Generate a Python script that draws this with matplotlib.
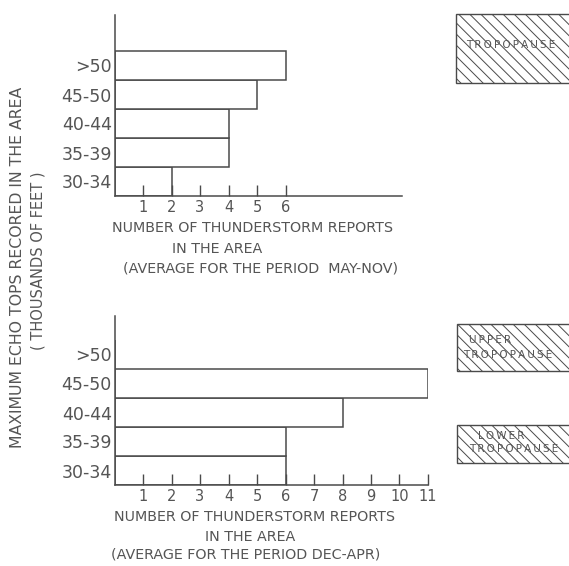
import numpy as np
import matplotlib
matplotlib.use("Agg")
import matplotlib.pyplot as plt
from matplotlib.patches import Rectangle

W, H = 569, 566

categories = ['30-34', '35-39', '40-44', '45-50', '>50']
may_nov = [2, 4, 4, 5, 6]
dec_apr = [6, 6, 8, 11, 0]
ticks_top = [1, 2, 3, 4, 5, 6]
ticks_bottom = [1, 2, 3, 4, 5, 6, 7, 8, 9, 10, 11]

ink = '#4a4a4a'
txt = '#555555'
plt.rcParams['hatch.linewidth'] = 0.7
plt.rcParams['hatch.color'] = '#9a9a9a'

fig = plt.figure(figsize=(W / 100, H / 100), dpi=100)


def px_axes(x0, y_top, x1, y_bot):
    return fig.add_axes([x0 / W, 1 - y_bot / H, (x1 - x0) / W, (y_bot - y_top) / H])


def ftext(x, y, s, **kw):
    fig.text(x / W, 1 - y / H, s, color=txt, **kw)


def spaced(word):
    # wide lettering of the hand-drawn labels
    return '\u2009'.join(word)


def panel(ax, values, ticks, xmax, ymax):
    ax.barh(np.arange(len(categories)), values, height=1, align='edge',
            color='white', edgecolor=ink, linewidth=1.1)
    ax.set_xlim(0, xmax)
    ax.set_ylim(0, ymax)
    for s in ['top', 'right']:
        ax.spines[s].set_visible(False)
    for s in ['left', 'bottom']:
        ax.spines[s].set_color(ink)
        ax.spines[s].set_linewidth(1.1)
    ax.set_xticks(ticks)
    ax.set_xticklabels([str(t) for t in ticks], color=txt, fontsize=10.5)
    ax.tick_params(axis='x', direction='in', length=8, width=1, color=ink, pad=3)
    ax.set_yticks(np.arange(len(categories)) + 0.5)
    ax.set_yticklabels(categories, color=txt, fontsize=12.5)
    ax.tick_params(axis='y', length=0, pad=2)


unit = 28.5
ax1 = px_axes(114.5, 15, 402, 196)
panel(ax1, may_nov, ticks_top, (402 - 114.5) / unit, (196 - 15) / 29.0)
ax2 = px_axes(114.5, 316, 428, 485)
panel(ax2, dec_apr, ticks_bottom, (428 - 114.5) / unit, (485 - 316) / 29.0)

# axis titles
fs = 10.3
ftext(253, 228, 'NUMBER OF THUNDERSTORM REPORTS', ha='center', va='center', fontsize=fs)
ftext(217, 249, 'IN THE AREA', ha='center', va='center', fontsize=fs)
ftext(261, 268, '(AVERAGE FOR THE PERIOD  MAY-NOV)', ha='center', va='center', fontsize=fs)
ftext(255, 517, 'NUMBER OF THUNDERSTORM REPORTS', ha='center', va='center', fontsize=fs)
ftext(250, 537, 'IN THE AREA', ha='center', va='center', fontsize=fs)
ftext(246, 555, '(AVERAGE FOR THE PERIOD DEC-APR)', ha='center', va='center', fontsize=fs)

ftext(18, 267, 'MAXIMUM ECHO TOPS RECORED IN THE AREA', rotation=90,
      ha='center', va='center', fontsize=11.3)
ftext(38, 261, '( THOUSANDS OF FEET )', rotation=90,
      ha='center', va='center', fontsize=10.5)

# hatched tropopause boxes
boxes = [(456, 14, 83, ['TROPOPAUSE'], [45], [511]),
         (457, 324, 371, ['UPPER', 'TROPOPAUSE'], [340, 355], [490, 508]),
         (457, 425, 463, ['LOWER', 'TROPOPAUSE'], [436, 449], [501, 514])]
for x0, yt, yb, words, ys, xs in boxes:
    r = Rectangle((x0 / W, 1 - yb / H), (600 - x0) / W, (yb - yt) / H,
                  transform=fig.transFigure, facecolor='white', edgecolor=ink,
                  linewidth=1.0, hatch='\\\\\\')
    fig.patches.append(r)
    for w, y, x in zip(words, ys, xs):
        ftext(x, y, spaced(w), ha='center', va='center', fontsize=7.5,
              family=['DejaVu Sans'])

fig.savefig('out.png', dpi=100)
